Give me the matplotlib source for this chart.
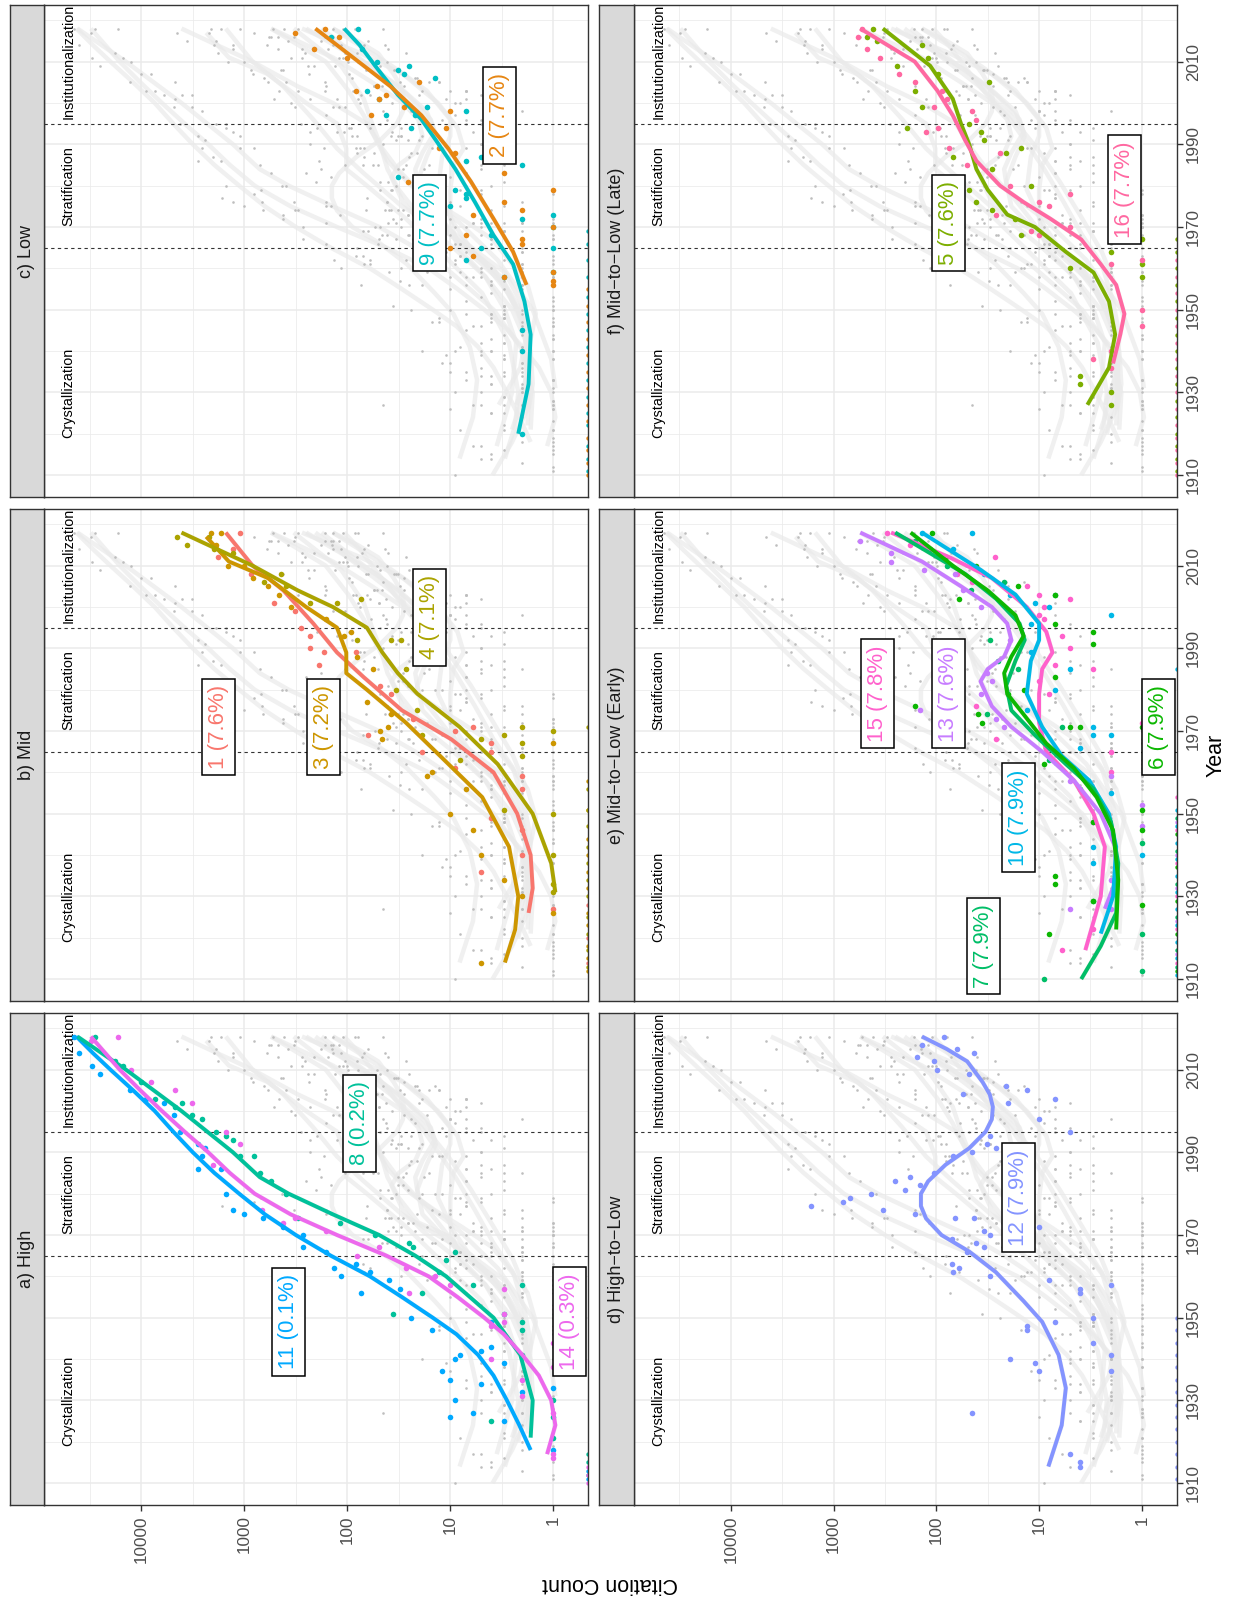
import numpy as np
import matplotlib.pyplot as plt

plt.rcParams['font.family'] = ['Liberation Sans', 'DejaVu Sans']

# ---------------- data (fit = smoothed log10 citations, points = yearly counts)
c1_fit_year = [1926, 1932, 1940, 1950, 1960, 1968, 1975, 1983, 1989, 1996, 2004, 2010, 2018]
c1_fit_log = [0.24, 0.2, 0.22, 0.35, 0.58, 0.99, 1.47, 1.84, 2.1, 2.33, 2.62, 2.92, 3.18]
c1_year = [2018, 2014, 2012, 2008, 2001, 1999, 1995, 1993, 1990, 1989, 1986, 1989, 1969, 1981, 1979,
           1973, 1965, 1961, 1970, 1971, 1936, 1967, 1965, 1959, 1956, 1946, 1940, 1927, 1949]
c1_count = [1100, 1300, 1800, 870, 520, 320, 280, 230, 230, 170, 190, 83, 63, 48, 38,
            23, 19, 9, 9, 6, 5, 4, 4, 2, 2, 2, 2, 1, 4]
c1_zero = [1914, 1920, 1928]

c2_fit_year = [1956, 1964, 1972, 1981, 1989, 1997, 2004, 2009, 2014, 2018]
c2_fit_log = [0.26, 0.39, 0.58, 0.8, 1.02, 1.28, 1.58, 1.84, 2.1, 2.31]
c2_year = [2017, 2018, 2016, 2013, 2011, 2003, 2002, 2004, 2001, 1997, 2005, 1999, 1998, 1994, 1989, 1988,
           1981, 1976, 1974, 1973, 1968, 1963, 1965, 1966, 1967, 1958, 1959, 1957, 1956, 1979, 1970, 1983]
c2_count = [320, 165, 120, 210, 100, 83, 42, 51, 49, 59, 20, 28, 10, 11, 13, 9,
            26, 3, 2, 6, 7, 6, 10, 2, 2, 3, 1, 1, 1, 1, 1, 3]
c2_zero = [1910, 1913, 1916, 1919, 1923, 1927, 1931, 1935, 1939, 1943, 1947, 1951, 1955]

c3_fit_year = [1914, 1922, 1930, 1942, 1954, 1964, 1972, 1980, 1984, 1989, 1995, 2000, 2007, 2011, 2017]
c3_fit_log = [0.47, 0.37, 0.34, 0.43, 0.69, 1.1, 1.43, 1.81, 2.01, 2.01, 2.1, 2.4, 2.77, 3.15, 3.37]
c3_year = [2018, 2018, 2015, 2010, 2010, 2007, 2005, 2003, 2000, 1997, 1993, 1994, 1988, 1977, 1985,
           1971, 1968, 1974, 1970, 1959, 1960, 1950, 1956, 1946, 1940, 1934, 1930, 1914, 1967, 1926]
c3_count = [2100, 1700, 1900, 1450, 1000, 830, 590, 460, 350, 160, 107, 93, 80, 65, 56,
            40, 46, 38, 48, 17, 15, 10, 7, 6, 5, 3, 2, 5, 1, 1]
c3_zero = [1912, 1915, 1918, 1923, 1926, 1932, 1936, 1940, 1944, 1951, 1958]

c4_fit_year = [1931, 1938, 1950, 1962, 1971, 1979, 1984, 1989, 1995, 2000, 2004, 2010, 2018]
c4_fit_log = [-0.02, 0.02, 0.2, 0.54, 0.91, 1.32, 1.51, 1.66, 1.81, 2.14, 2.48, 2.92, 3.61]
c4_year = [2017, 2015, 2017, 2014, 2013, 2006, 2008, 2005, 2001, 2001, 2002, 1992, 1992, 1992, 1980,
           1985, 1975, 1969, 1963, 1968, 1969, 1971, 1967, 1964, 1951, 1950, 1940, 1933, 1970, 1931]
c4_count = [4500, 3600, 2200, 1950, 1300, 650, 440, 390, 230, 126, 73, 80, 38, 30, 34,
            27, 21, 19, 8, 5, 3, 2, 2, 2, 3, 1, 1, 1, 1, 1]
c4_zero = [1913, 1917, 1921, 1925, 1930, 1934, 1938, 1942, 1947, 1951, 1956, 1971]

c5_fit_year = [1927, 1936, 1944, 1952, 1959, 1964, 1970, 1973, 1979, 1984, 1990, 1995, 2001, 2009, 2018]
c5_fit_log = [0.53, 0.32, 0.26, 0.32, 0.47, 0.74, 1.04, 1.31, 1.5, 1.61, 1.68, 1.76, 1.84, 2.06, 2.52]
c5_year = [2018, 2016, 2015, 2014, 2011, 2007, 2009, 2003, 1999, 2005, 1994, 1995, 1993, 1991, 1987, 1988,
           1989, 1984, 1976, 1979, 1980, 1974, 1972, 1968, 1960, 1964, 1967, 1961, 1958, 1934, 1932, 1930, 1927]
c5_count = [410, 470, 375, 138, 120, 97, 240, 163, 138, 31, 195, 48, 37, 34, 69, 21,
            15, 29, 41, 48, 12, 29, 17, 15, 5, 2, 1, 1, 1, 4, 4, 2, 2]
c5_zero = [1911, 1914, 1917, 1920, 1924, 1928, 1932, 1936, 1940, 1944, 1948, 1952, 1956, 1960, 1964, 1967]

c6_fit_year = [1922, 1934, 1946, 1954, 1961, 1967, 1974, 1979, 1984, 1988, 1993, 1998, 2004, 2010, 2018]
c6_fit_log = [0.25, 0.23, 0.28, 0.44, 0.66, 0.93, 1.15, 1.31, 1.34, 1.27, 1.15, 1.23, 1.5, 1.84, 2.25]
c6_year = [2018, 2012, 2010, 2002, 2005, 2003, 1996, 1991, 1994, 1983, 1980, 1979, 1976, 1974, 1972,
           1971, 1971, 1962, 1948, 1951, 1946, 1935, 1933, 1928, 1971, 1929, 1921]
c6_count = [110, 81, 41, 60, 16, 7, 7, 3, 3, 7, 14, 20, 160, 39, 36,
            5, 4, 9, 3, 1, 1, 7, 7, 1, 1, 3, 8]
c6_zero = [1912, 1921, 1929, 1937, 1945]

c7_fit_year = [1910, 1918, 1926, 1938, 1948, 1956, 1962, 1969, 1975, 1981, 1987, 1992, 1996, 2002, 2008, 2018]
c7_fit_log = [0.59, 0.4, 0.25, 0.23, 0.3, 0.47, 0.74, 1.04, 1.27, 1.32, 1.23, 1.14, 1.19, 1.42, 1.72, 2.4]
c7_year = [1910, 1912, 1971, 1963, 1974, 1985, 1987, 2010, 2004, 2006, 2014, 2016, 1992, 2003, 1956,
           1929, 1921, 1943]
c7_count = [9, 1, 6, 8, 32, 16, 25, 78, 46, 22, 115, 163, 30, 7, 4, 3, 1, 1]
c7_zero = [1913, 1917, 1925, 1933, 1941, 1949]

c8_fit_year = [1921, 1930, 1941, 1950, 1960, 1965, 1970, 1975, 1980, 1984, 1990, 2000, 2010, 2018]
c8_fit_log = [0.22, 0.2, 0.32, 0.58, 1.04, 1.34, 1.69, 2.14, 2.57, 2.85, 3.11, 3.61, 4.15, 4.62]
c8_year = [2018, 2012, 2011, 2007, 2003, 2001, 2002, 1999, 1998, 1995, 1994, 1993, 1989, 1989, 1985,
           1983, 1980, 1974, 1973, 1970, 1968, 1967, 1956, 1961, 1964, 1966, 1958, 1951, 1958, 1951,
           1941, 1947, 1925, 1930, 1926, 1921, 1949]
c8_count = [28000, 18000, 15000, 10000, 7400, 4700, 4000, 3200, 2600, 1900, 1500, 1300, 1100, 800, 700,
            550, 390, 300, 117, 54, 25, 23, 19, 13, 11, 9, 6, 3, 2, 36,
            2, 2, 4, 1, 1, 1, 2]
c8_zero = [1912, 1915, 1917]

c9_fit_year = [1920, 1932, 1944, 1952, 1961, 1968, 1976, 1984, 1991, 1996, 2002, 2009, 2014, 2018]
c9_fit_log = [0.34, 0.24, 0.22, 0.28, 0.39, 0.58, 0.76, 0.95, 1.14, 1.28, 1.51, 1.73, 1.88, 2.03]
c9_year = [2018, 2016, 2013, 2010, 2008, 2009, 2003, 2007, 2006, 2001, 1997, 1997, 1994, 1999, 1998,
           1987, 1986, 1979, 1978, 1977, 1975, 1982, 1968, 1972, 1973, 1970, 1965, 1958, 1962, 1945,
           1940, 1920, 1959, 1985, 1965]
c9_count = [79, 145, 72, 51, 32, 25, 64, 28, 14, 49, 42, 22, 24, 17, 7,
            5, 7, 9, 7, 7, 10, 32, 4, 2, 1, 1, 1, 3, 7, 2,
            2, 2, 1, 2, 5]
c9_zero = [1911, 1914, 1917, 1922, 1925, 1929, 1933, 1937, 1941, 1945, 1949, 1953, 1958, 1962, 1966, 1969]

c10_fit_year = [1921, 1930, 1942, 1950, 1958, 1964, 1971, 1979, 1987, 1992, 1996, 2003, 2009, 2018]
c10_fit_log = [0.4, 0.28, 0.25, 0.32, 0.51, 0.78, 0.97, 1.12, 1.08, 1.0, 1.0, 1.23, 1.57, 2.14]
c10_year = [2018, 2018, 2014, 2008, 2003, 2001, 2000, 1998, 1996, 1980, 1989, 1985, 1971, 1969, 1966,
            1940, 1942, 1955, 1938, 1975, 1969]
c10_count = [45, 138, 69, 34, 19, 11, 8, 2, 12, 7, 12, 5, 3, 3, 4,
             1, 3, 2, 3, 13, 2]
c10_zero = [1911, 1915, 1919, 1923, 1927, 1931, 1935, 1939, 1943, 1947, 1951, 1985]

c11_fit_year = [1918, 1924, 1930, 1936, 1941, 1946, 1950, 1955, 1960, 1965, 1970, 1975, 1980, 1985,
                1990, 1995, 2000, 2005, 2010, 2014, 2018]
c11_fit_log = [0.22, 0.33, 0.45, 0.58, 0.73, 0.94, 1.17, 1.47, 1.78, 2.16, 2.5, 2.8, 3.05, 3.29,
               3.5, 3.69, 3.87, 4.08, 4.3, 4.47, 4.63]
c11_year = [2018, 2014, 2011, 2009, 2005, 2003, 2002, 1999, 1995, 1992, 1989, 1991, 1986, 1986, 1980,
            1976, 1975, 1974, 1972, 1970, 1967, 1966, 1962, 1960, 1963, 1956, 1961, 1959, 1957, 1950,
            1947, 1937, 1935, 1930, 1940, 1941, 1927, 1942, 1934, 1949, 1943, 1925, 1939, 1932, 1933,
            1918, 1926]
c11_count = [45000, 40000, 30000, 25000, 13000, 9000, 6000, 4800, 4200, 2800, 2600, 2400, 2800, 1700, 1500,
             1300, 1000, 660, 420, 270, 270, 160, 135, 115, 83, 74, 60, 39, 31, 24,
             15, 12, 10, 9, 9, 8, 6, 5, 5, 4, 4, 3, 3, 2, 1,
             1, 10]
c11_zero = [1911, 1913]

c12_fit_year = [1914, 1924, 1933, 1941, 1949, 1954, 1961, 1966, 1970, 1974, 1977, 1980, 1983, 1987, 1991,
                1995, 1998, 2001, 2004, 2007, 2012, 2015, 2018]
c12_fit_log = [0.91, 0.78, 0.74, 0.81, 0.97, 1.15, 1.42, 1.68, 1.95, 2.1, 2.15, 2.15, 2.08, 1.91, 1.68,
               1.52, 1.46, 1.45, 1.48, 1.55, 1.7, 1.9, 2.14]
c12_year = [2018, 2016, 2015, 2014, 2013, 2012, 2010, 2009, 2004, 2006, 2005, 2003, 2002, 1998, 1995,
            1994, 1992, 1991, 1990, 1989, 1985, 1984, 1983, 1981, 1982, 1980, 1979, 1978, 1977, 1976,
            1975, 1974, 1974, 1971, 1972, 1970, 1969, 1968, 1967, 1966, 1963, 1962, 1961, 1960, 1959,
            1956, 1957, 1958, 1948, 1947, 1949, 1950, 1944, 1941, 1937, 1940, 1939, 1937, 1927, 1915,
            1914, 1917]
c12_count = [85, 138, 63, 43, 155, 105, 98, 48, 55, 21, 13, 7, 20, 10, 5,
             30, 32, 26, 45, 69, 105, 180, 250, 200, 145, 430, 690, 810, 1650, 330,
             160, 66, 43, 34, 10, 30, 71, 41, 34, 50, 71, 60, 69, 30, 8,
             4, 4, 2, 13, 13, 7, 3, 3, 2, 2, 19, 11, 10, 45, 4,
             4, 5]
c12_zero = [1911, 1914, 1917, 1920, 1923, 1926, 1929, 1932, 1935, 1938, 1941, 1944, 1947, 1950]

c13_fit_year = [1927, 1934, 1942, 1950, 1958, 1965, 1971, 1976, 1982, 1985, 1988, 1992, 1996, 2000,
                2005, 2011, 2018]
c13_fit_log = [0.36, 0.25, 0.26, 0.4, 0.66, 0.97, 1.27, 1.46, 1.57, 1.5, 1.34, 1.27, 1.31, 1.46,
               1.76, 2.14, 2.74]
c13_year = [2016, 2013, 2011, 2009, 2008, 2004, 2000, 1992, 1984, 1982, 1979, 1975, 1973, 1971, 1966,
            1958, 1959, 1952, 1947, 1927, 1934, 1927, 1948]
c13_count = [550, 275, 275, 132, 66, 55, 37, 19, 32, 29, 37, 145, 26, 22, 8,
             5, 2, 1, 1, 5, 2, 2, 3]
c13_zero = [1916, 1924, 1932, 1940, 1948]

c14_fit_year = [1917, 1924, 1930, 1936, 1941, 1946, 1950, 1955, 1960, 1965, 1970, 1975, 1980, 1985,
                1990, 1995, 2000, 2005, 2010, 2018]
c14_fit_log = [0.06, -0.02, 0.02, 0.14, 0.3, 0.48, 0.67, 0.93, 1.21, 1.62, 2.1, 2.55, 2.9, 3.14,
               3.35, 3.58, 3.8, 4.01, 4.21, 4.49]
c14_year = [2018, 2017, 2010, 2007, 2005, 2002, 1987, 1995, 1992, 1976, 1973, 1974, 1971, 1965, 1967,
            1962, 1956, 1960, 1958, 1948, 1940, 1957, 1951, 1949, 1944, 1938, 1927, 1916, 1917, 1931,
            1935]
c14_count = [17000, 31000, 12500, 8100, 4700, 3200, 2000, 1500, 1100, 680, 420, 320, 160, 80, 49,
             27, 25, 14, 10, 4, 4, 3, 3, 3, 1, 1, 1, 1, 1, 2,
             2]
c14_zero = [1910, 1912, 1914]

c15_fit_year = [1917, 1930, 1942, 1950, 1958, 1965, 1972, 1979, 1985, 1989, 1994, 2000, 2007, 2012, 2018]
c15_fit_log = [0.55, 0.4, 0.36, 0.47, 0.66, 0.93, 1.0, 1.0, 0.97, 0.87, 0.93, 1.12, 1.46, 1.87, 2.44]
c15_year = [2018, 2015, 2012, 2008, 2006, 2005, 2003, 2002, 2000, 1998, 1997, 1993, 1990, 1986, 1982,
            1979, 1985, 1976, 1968, 1966, 1965, 1960, 1972, 1948, 1922, 1917]
c15_count = [300, 180, 27, 63, 45, 13, 10, 5, 9, 10, 9, 6, 5, 7, 10,
             8, 3, 41, 26, 8, 2, 2, 1, 3, 3, 6]
c15_zero = [1914, 1922, 1930, 1938, 1946, 1954]

c16_fit_year = [1937, 1944, 1949, 1956, 1961, 1967, 1972, 1976, 1980, 1986, 1991, 1997, 2003, 2010, 2018]
c16_fit_log = [0.28, 0.21, 0.17, 0.25, 0.4, 0.59, 0.89, 1.15, 1.38, 1.61, 1.72, 1.84, 1.99, 2.21, 2.74]
c16_year = [2018, 2016, 2013, 2011, 2007, 2005, 2003, 2001, 1999, 1994, 1993, 1998, 1996, 1989, 1985,
            1988, 1980, 1976, 1975, 1973, 1969, 1968, 1978, 1970, 1961, 1962, 1950, 1946, 1940, 1938,
            1936]
c16_count = [530, 580, 470, 355, 233, 163, 89, 78, 105, 97, 126, 45, 41, 75, 50,
             24, 19, 10, 8, 26, 12, 10, 5, 5, 2, 1, 1, 1, 2, 3,
             2]
c16_zero = [1910, 1913, 1916, 1919, 1922, 1926, 1930, 1934, 1938, 1942, 1946, 1950, 1954, 1958, 1962]

# further grey points visible in every panel (low-count columns and mid range)
bg_year = [1911, 1915, 1919, 1923, 1928, 1933, 1938, 1943, 1948, 1953, 1958, 1963, 1968, 1973, 1978,
           1913, 1918, 1924, 1931, 1937, 1944, 1950, 1956, 1961, 1966, 1971, 1976,
           1916, 1921, 1927, 1935, 1942, 1949, 1955, 1962, 1969, 1975, 1981, 1987,
           1925, 1932, 1940, 1947, 1954, 1960, 1967, 1974, 1980, 1986, 1993,
           1930, 1939, 1946, 1953, 1959, 1965, 1972, 1979, 1984, 1990, 1996,
           1945, 1952, 1958, 1964, 1970, 1977, 1983, 1989, 1995, 2001,
           1955, 1961, 1968, 1976, 1984, 1991, 1998, 2004, 2008, 2013,
           1963, 1972, 1981, 1988, 1994, 2000, 2006, 2011, 2015,
           1985, 1992, 1999, 2004, 2009, 2012, 2016, 2003, 2008, 2014, 2017]
bg_count = [1, 1, 1, 1, 1, 1, 1, 1, 1, 1, 1, 1, 1, 1, 1,
            2, 2, 2, 2, 2, 2, 2, 2, 2, 2, 2, 2,
            3, 3, 3, 3, 3, 3, 3, 3, 3, 3, 3, 3,
            4, 4, 4, 4, 4, 4, 4, 4, 4, 4, 4,
            5, 5, 5, 5, 5, 5, 5, 5, 5, 5, 5,
            7, 7, 7, 7, 7, 7, 7, 7, 7, 7,
            10, 12, 14, 15, 18, 20, 24, 28, 35, 40,
            20, 30, 40, 55, 60, 75, 90, 110, 140,
            70, 90, 120, 160, 210, 260, 330, 300, 420, 600, 800]

cluster_share = ['7.6%', '7.7%', '7.2%', '7.1%', '7.6%', '7.9%', '7.9%', '0.2%',
                 '7.7%', '7.9%', '0.1%', '7.9%', '7.6%', '0.3%', '7.8%', '7.7%']
cluster_colors = ['#F8766D', '#E68613', '#CD9600', '#ABA300', '#7CAE00', '#0CB702', '#00BE67', '#00C19A',
                  '#00BFC4', '#00B8E7', '#00A9FF', '#8494FF', '#C77CFF', '#ED68ED', '#FF61CC', '#FF68A1']

# label anchor (year, log10 citations) for each cluster
label_year = [1971, 1997, 1971, 1997.5, 1971, 1971, 1918, 1997, 1971, 1949, 1949, 1979, 1979, 1949, 1979, 1979]
label_log = [3.25, 0.52, 2.23, 1.2, 1.88, -0.16, 1.54, 1.88, 1.2, 1.2, 2.57, 1.2, 1.88, -0.16, 2.57, 0.17]

panel_titles = ['a) High', 'b) Mid', 'c) Low', 'd) High\u2212to\u2212Low',
                'e) Mid\u2212to\u2212Low (Early)', 'f) Mid\u2212to\u2212Low (Late)']
panel_members = [[11, 8, 14], [1, 3, 4], [9, 2], [12], [15, 13, 10, 7, 6], [5, 16]]

phase_names = ['Crystallization', 'Stratification', 'Institutionalization']
phase_year = [1930, 1980, 2010]
phase_breaks = [1965, 1995]

cit_ticks = [0, 1, 2, 3, 4]
cit_labels = ['1', '10', '100', '1000', '10000']
year_ticks = [1910, 1930, 1950, 1970, 1990, 2010]

# build table from the named lists
g = globals()
clusters = {}
for k in range(1, 17):
    clusters[k] = dict(fit_year=g['c%d_fit_year' % k], fit_log=g['c%d_fit_log' % k],
                       year=g['c%d_year' % k], count=g['c%d_count' % k], zero=g['c%d_zero' % k])

# ---------------- layout (pixels of the 1235x1597 canvas)
W, H = 1235, 1597
fig = plt.figure(figsize=(W / 100, H / 100), dpi=100)

col_x = [(44, 588), (633.7, 1176.5)]
strip_x = [(9.6, 44), (598.7, 633.7)]
row_y = [(5, 497), (509, 1001), (1013, 1505)]
# panel -> (column, row from top)
panel_pos = [(0, 2), (0, 1), (0, 0), (1, 2), (1, 1), (1, 0)]

LOG_HI, LOG_LO = 4.945, -0.337
YEAR_LO, YEAR_HI = 1904.7, 2023.7
FRAME = '#333333'


def rect(x0, x1, y0, y1):
    return [x0 / W, 1 - y1 / H, (x1 - x0) / W, (y1 - y0) / H]


for p, title in enumerate(panel_titles):
    col, row = panel_pos[p]
    ax = fig.add_axes(rect(col_x[col][0], col_x[col][1], row_y[row][0], row_y[row][1]))
    ax.set_xlim(LOG_HI, LOG_LO)
    ax.set_ylim(YEAR_LO, YEAR_HI)

    ax.set_xticks(cit_ticks)
    ax.set_xticks([t + 0.5 for t in cit_ticks], minor=True)
    ax.set_yticks(year_ticks)
    ax.set_yticks([t + 10 for t in year_ticks], minor=True)
    ax.grid(which='major', color='#EBEBEB', lw=1.1, zorder=0)
    ax.grid(which='minor', color='#EBEBEB', lw=0.55, zorder=0)
    ax.set_axisbelow(True)
    for s in ax.spines.values():
        s.set_color(FRAME)
        s.set_linewidth(1.0)
        s.set_zorder(10)

    ax.tick_params(which='minor', length=0)
    ax.tick_params(which='major', length=4, width=1, color=FRAME, labelcolor='#4D4D4D', labelsize=12.3)
    if row == 2:
        ax.set_xticklabels(cit_labels, rotation=90)
    else:
        ax.tick_params(axis='x', bottom=False, labelbottom=False)
    if col == 1:
        ax.yaxis.tick_right()
        ax.set_yticklabels([str(y) for y in year_ticks], rotation=90, va='center', ha='left')
        ax.tick_params(axis='y', which='major', length=4, width=1, color=FRAME, labelsize=12.3, pad=3)
    else:
        ax.tick_params(axis='y', left=False, labelleft=False)

    # background: all clusters in grey
    for k in range(1, 17):
        c = clusters[k]
        ax.plot(c['fit_log'], c['fit_year'], color='#EAEAEA', lw=3.2, alpha=0.7,
                solid_capstyle='butt', solid_joinstyle='round', zorder=1)
    for k in range(1, 17):
        c = clusters[k]
        ax.scatter(np.log10(c['count']), c['year'], s=3.5, color='#BEBEBE', lw=0, zorder=2)
    ax.scatter(np.log10(bg_count), bg_year, s=3.5, color='#BEBEBE', lw=0, zorder=2)

    for yb in phase_breaks:
        ax.axhline(yb, color='#333333', lw=0.8, ls=(0, (3, 3)), zorder=2.5)

    for name, yy in zip(phase_names, phase_year):
        ax.text(4.706, yy, name, rotation=90, ha='center', va='center', fontsize=10.4,
                color='black', clip_on=True, zorder=3)

    # highlighted clusters
    for k in panel_members[p]:
        c = clusters[k]
        col_k = cluster_colors[k - 1]
        ax.scatter(np.log10(c['count']), c['year'], s=16, color=col_k, lw=0, zorder=4)
        ax.scatter(np.full(len(c['zero']), ax.get_xlim()[1]), c['zero'], s=10, color=col_k,
                   lw=0, zorder=4, clip_on=True)
        ax.plot(c['fit_log'], c['fit_year'], color=col_k, lw=2.8, solid_capstyle='butt',
                solid_joinstyle='round', zorder=5)
    for k in panel_members[p]:
        ax.text(label_log[k - 1], label_year[k - 1], '%d (%s)' % (k, cluster_share[k - 1]),
                rotation=90, ha='center', va='center', fontsize=16, color=cluster_colors[k - 1],
                clip_on=True, zorder=6,
                bbox=dict(boxstyle='square,pad=0.28', fc='white', ec='black', lw=1.1))

    # facet strip
    sx = fig.add_axes(rect(strip_x[col][0], strip_x[col][1], row_y[row][0], row_y[row][1]))
    sx.set_facecolor('#D9D9D9')
    sx.set_xticks([])
    sx.set_yticks([])
    for s in sx.spines.values():
        s.set_color(FRAME)
        s.set_linewidth(1.0)
    sx.text(0.5, 0.5, title, rotation=90, ha='center', va='center', fontsize=13,
            color='#1A1A1A', transform=sx.transAxes)

fig.text(610 / W, 1 - 1583 / H, 'Citation Count', rotation=180, ha='center', va='center', fontsize=15.5)
fig.text(1216 / W, 1 - 755 / H, 'Year', rotation=90, ha='center', va='center', fontsize=15.5)

fig.savefig('out.png', dpi=100)
